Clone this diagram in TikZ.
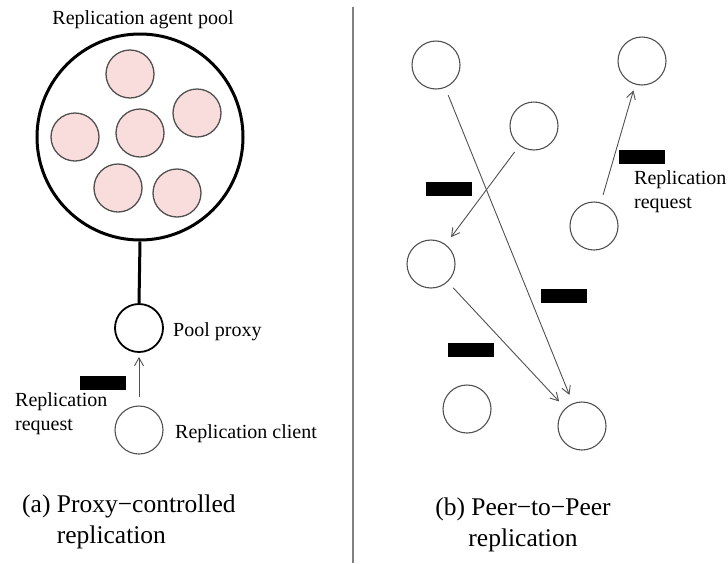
\documentclass[tikz,border=0pt]{standalone}
\usepackage{fontspec}
\setmainfont{Liberation Serif}
\usepackage{tikz}
\usetikzlibrary{arrows.meta}
\definecolor{agentfill}{HTML}{F9DCDC}
\definecolor{rimgray}{HTML}{505050}

\begin{document}
\begin{tikzpicture}[x=1pt, y=-1pt,
  agent/.style={circle, draw=rimgray, line width=1.3pt, fill=agentfill,
                minimum size=48pt, inner sep=0pt},
  peer/.style={circle, draw=rimgray, line width=1.1pt, minimum size=48pt,
               inner sep=0pt},
  pool/.style={circle, draw, line width=3pt, minimum size=206pt, inner sep=0pt},
  proxy/.style={circle, draw, line width=1.8pt, minimum size=48pt, inner sep=0pt},
  token/.style={fill=black, minimum width=46pt, minimum height=14pt, inner sep=0pt},
  lbl/.style={inner sep=0pt, font=\fontsize{20}{24}\selectfont},
  caption/.style={inner sep=0pt, font=\fontsize{25.5}{31}\selectfont},
  msg/.style={draw=rimgray, line width=0.9pt,
              -{Straight Barb[length=8pt, width=9pt]},
              shorten <=8pt, shorten >=9pt},
  stem/.style={line width=3pt},
]
\useasboundingbox (0,0) rectangle (728,563);

\node[lbl] (pooltitle) at (143,20) {Replication agent pool};
\node[pool] (pool) at (140,137) {};
\node[agent] (a1) at (130,74) {};
\node[agent] (a2) at (197,113) {};
\node[agent] (a3) at (75,137) {};
\node[agent] (a4) at (140,133) {};
\node[agent] (a5) at (118,188) {};
\node[agent] (a6) at (177,193) {};

\node[proxy] (proxy) at (139,328) {};
\node[peer] (client) at (139,430) {};
\node[lbl, anchor=west] (proxylbl) at (173,332) {Pool proxy};
\node[lbl, anchor=west] (clientlbl) at (175,434) {Replication client};
\node[token] (req0) at (103,382.5) {};
\node[lbl, anchor=west, align=left] (reqlbl0) at (15,414) {Replication\\request};

\draw[stem] (pool.south) -- (proxy.north);
\draw[msg, shorten >=4pt] (client) -- (proxy);

\node[caption, anchor=west, align=left] (capa) at (22,522)
  {(a) Proxy−controlled\\\phantom{(a) }replication};

\draw[gray, line width=1.2pt] (353,7) -- (353,563);

\node[peer] (pa) at (436,65) {};
\node[peer] (pb) at (534,126) {};
\node[peer] (pc) at (642,61) {};
\node[peer] (pd) at (594,226) {};
\node[peer] (pe) at (431,264) {};
\node[peer] (pf) at (467,409) {};
\node[peer] (pg) at (582,426) {};

\node[token] (req1) at (449,189) {};
\node[token] (req2) at (642,156.5) {};
\node[token] (req3) at (563.5,295.5) {};
\node[token] (req4) at (471,350) {};
\node[lbl, anchor=west, align=left] (reqlbl1) at (634,192) {Replication\\request};

\draw[msg] (pa) -- (pg);
\draw[msg] (pb) -- (pe);
\draw[msg, shorten >=6pt] (pd) -- (pc);
\draw[msg] (pe) -- (pg);

\node[caption, align=center] (capb) at (523,525) {(b) Peer−to−Peer\\replication};

\end{tikzpicture}
\end{document}
